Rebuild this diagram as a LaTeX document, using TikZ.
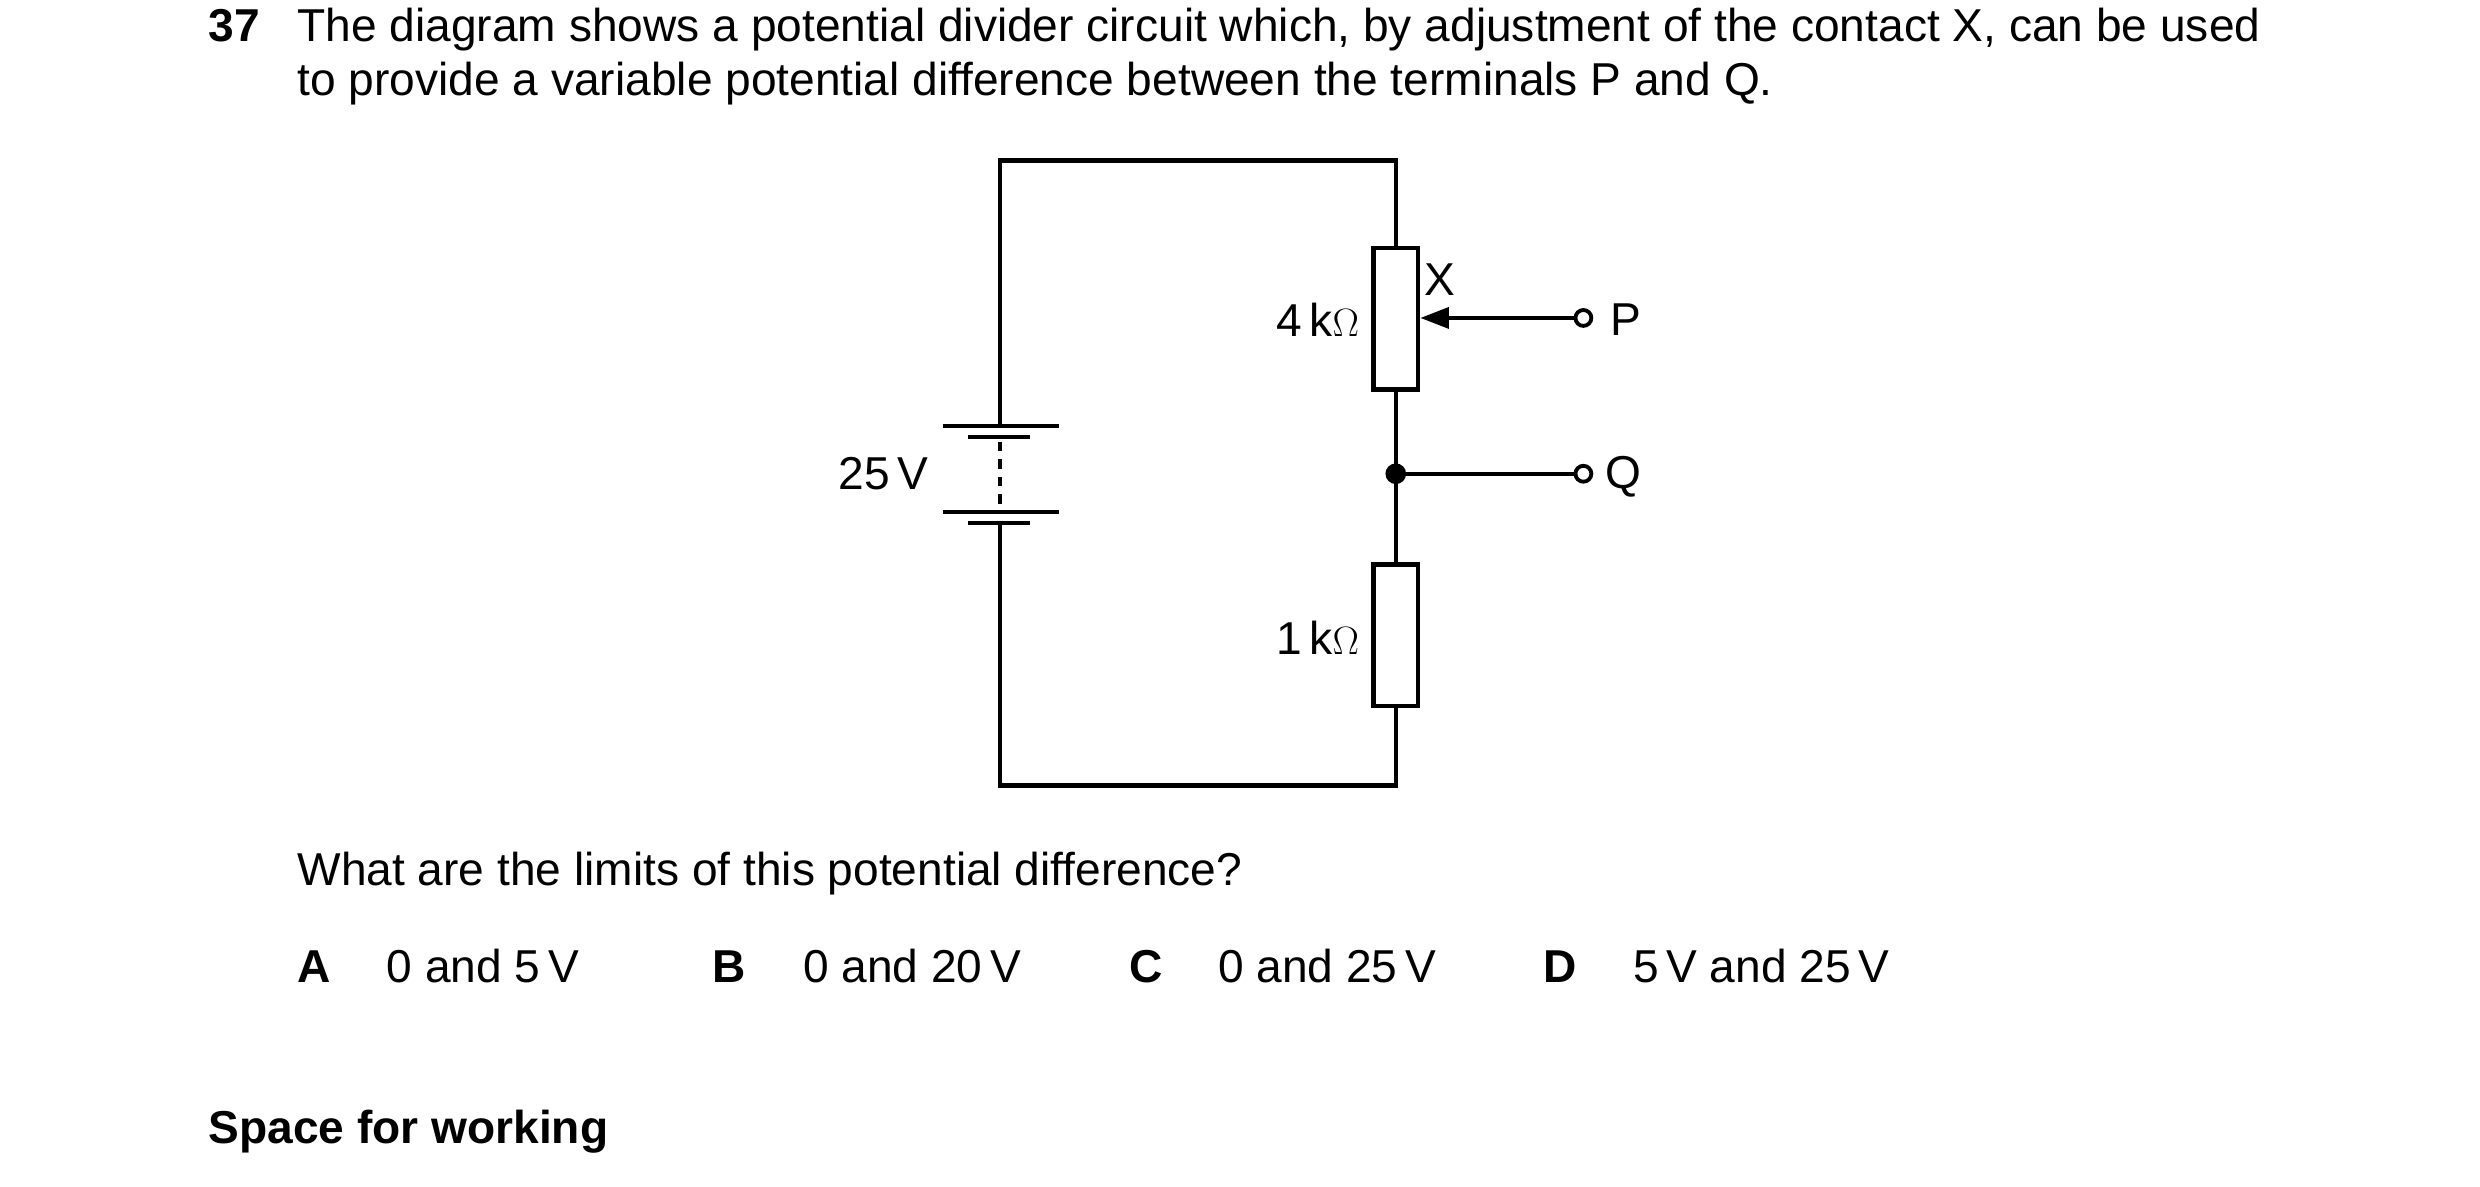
\documentclass[tikz,border=0pt]{standalone}
\usepackage{fontspec}
\setmainfont{Liberation Sans}
\usetikzlibrary{arrows.meta}
\begin{document}
\begin{tikzpicture}[x=1pt,y=-1pt,
  wire/.style={line width=2.8pt},
  txt/.style={inner sep=0pt,anchor=base west,font=\fontsize{29}{32}\selectfont},
  lab/.style={inner sep=0pt,font=\fontsize{29}{32}\selectfont},
  res/.style={draw,line width=2.8pt,fill=white,minimum width=28pt,minimum height=89pt,inner sep=0pt},
  term/.style={circle,draw,line width=2.4pt,fill=white,minimum size=10pt,inner sep=0pt}]
\useasboundingbox (0,0) rectangle (1560,746.6);
\node[txt,font=\fontsize{29}{32}\selectfont\bfseries] (n) at (131,26) {37};
\node[txt] (t1) at (187,26) {The diagram shows a potential divider circuit which, by adjustment of the contact X, can be used};
\node[txt] (t2) at (187,60) {to provide a variable potential difference between the terminals P and Q.};
\begin{scope}[xshift=-3pt]
\coordinate (tl) at (632,101); \coordinate (tr) at (881,101);
\coordinate (bl) at (632,494); \coordinate (br) at (881,494);
\coordinate (b1) at (632,268); \coordinate (b2) at (632,329);
\node[res] (r4) at (881,200.5) {};
\node[res] (r1) at (881,399.5) {};
\coordinate (j) at (881,298);
\draw[wire] (b1) -- (tl) -- (tr) -- (r4.north);
\draw[wire] (r4.south) -- (j) -- (r1.north);
\draw[wire] (r1.south) -- (br) -- (bl) -- (b2);
\draw[wire] (596,268) -- (669,268);
\draw[wire] (612,275) -- (651,275);
\draw[wire] (596,322) -- (669,322);
\draw[wire] (612,329) -- (651,329);
\draw[line width=2.2pt,dash pattern=on 6pt off 5pt] (632,278) -- (632,320);
\fill (j) circle (6.5pt);
\node[term] (P) at (999,200) {};
\node[term] (Q) at (999,298) {};
\draw[wire,-{Triangle[length=18pt,width=13pt]}] (P.west) -- (r4.east |- P);
\draw[wire] (j) -- (Q.west);
\node[lab,anchor=west] (pl) at (1016,201) {P};
\node[lab,anchor=west] (ql) at (1013,300) {Q};
\node[lab,anchor=west] (xl) at (899,176) {X};
\node[lab,anchor=east] (l4) at (858,201) {4\,k$\Omega$};
\node[lab,anchor=east] (l1) at (858,401) {1\,k$\Omega$};
\node[lab,anchor=east] (l25) at (587,298) {25\,V};
\end{scope}
\node[txt] (q) at (187,557) {What are the limits of this potential difference?};
\node[txt,font=\fontsize{29}{32}\selectfont\bfseries] (A) at (187,618) {A};
\node[txt] (a) at (243,618) {0 and 5\,V};
\node[txt,font=\fontsize{29}{32}\selectfont\bfseries] (B) at (448,618) {B};
\node[txt] (b) at (505,618) {0 and 20\,V};
\node[txt,font=\fontsize{29}{32}\selectfont\bfseries] (C) at (710,618) {C};
\node[txt] (c) at (766,618) {0 and 25\,V};
\node[txt,font=\fontsize{29}{32}\selectfont\bfseries] (D) at (971,618) {D};
\node[txt] (d) at (1027,618) {5\,V and 25\,V};
\node[txt,font=\fontsize{29}{32}\selectfont\bfseries] (s) at (131,719) {Space for working};
\end{tikzpicture}
\end{document}
